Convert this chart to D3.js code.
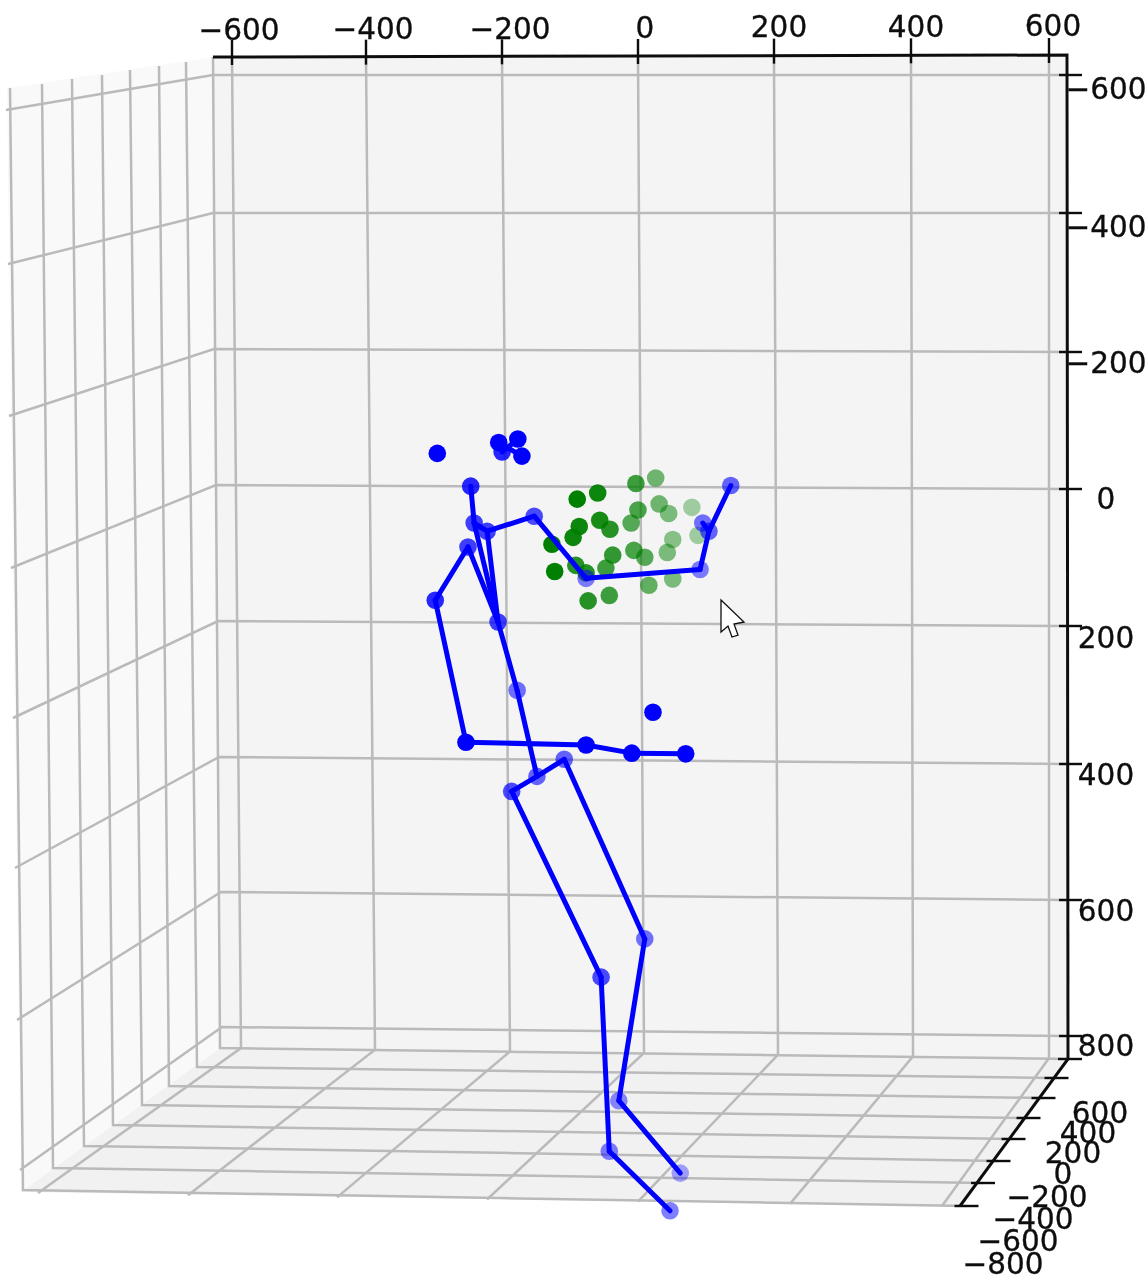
<!DOCTYPE html>
<html>
<head>
<meta charset="utf-8">
<style>
  html, body { margin: 0; background: #fff; }
  svg { display: block; }
  text { font-family: "DejaVu Sans", sans-serif; font-size: 29.5px; fill: #111; stroke: #111; stroke-width: 0.35px; }
</style>
</head>
<body>
<svg width="1148" height="1280"></svg>
<script src="https://d3js.org/d3.v7.min.js"></script>
<script>

// tick values
var xTicks = [-600, -400, -200, 0, 200, 400, 600],
    yTicks = [600, 400, 200, 0, -200, -400, -600, -800],
    zTicks = [-600, -400, -200, 0, 200, 400, 600, 800];

// green points (depth drives the fade)
var handX = [-92, -62, -6, 23, -89, -59, -44, -3, -13, 28, 42, 76, -98, -129, 48, 85, -40, -9, 7, 40, -125, -94, -79, -50, -76, -45, 13, 48],
    handZ = [16, 7, -7, -15, 56, 47, 60, 32, 51, 23, 37, 28, 72, 82, 75, 69, 98, 91, 101, 94, 122, 113, 124, 117, 165, 157, 142, 133],
    handDepth = [-300, -250, -50, 150, -250, -200, -150, 0, 50, 150, 200, 350, -250, -300, 250, 350, -100, 0, 50, 200, -300, -150, -150, -50, -150, -50, 100, 200];

// blue joints
var jointNames = ["A", "B", "C", "D", "E", "F", "G", "H", "I", "J", "K", "L", "M", "N", "O", "P", "Q", "R", "S", "T", "U", "V", "W", "X", "Y", "Z"],
    jointX = [-248, -243, -224, -252, -208, -300, -255, -79, -12, 67, -155, -79, 88, 101, 92, 133, -180, -151, -188, -111, -57, 7, -45, -31, 44, 59],
    jointZ = [-3, 51, 63, 86, 196, 164, 372, 376, 388, 389, 41, 132, 119, 63, 51, -4, 296, 422, 444, 397, 716, 660, 971, 897, 1058, 1003],
    jointDepth = [-150, -50, -50, -50, -50, -150, -300, -300, -300, -300, 0, 200, 200, 100, 150, 100, 150, 100, 0, 100, 0, 150, 200, 250, 200, 350];

var bones = ["AB", "BE", "CE", "DE", "DF", "FG", "GH", "HI", "IJ", "BC", "CK", "KL", "LM", "MN", "NP", "NO", "EQ", "QR", "RS", "RT", "SU", "UW", "WY", "TV", "VX", "XZ"];

// blue points with no bones
var looseX = [-297, -207, -179, -202, -173, 19],
    looseZ = [-51, -67, -72, -53, -47, 328],
    looseDepth = [-300, -300, -300, -150, -300, -300];

var faceBones = [[1, 4], [2, 3]];

var svg = d3.select("svg");

var defs = svg.append("defs");
defs.append("filter").attr("id", "soft")
    .attr("x", 0).attr("y", 0).attr("width", 1148).attr("height", 1280)
    .attr("filterUnits", "userSpaceOnUse")
  .append("feGaussianBlur").attr("stdDeviation", 0.7);

var root = svg.append("g").attr("filter", "url(#soft)");

// scales for the marks, as they look against the back wall
var x = d3.scaleLinear().domain([-600, 600]).range([230.5, 1049.5]),
    z = d3.scaleLinear().domain([-600, 800]).range([78.5, 1034.5]),
    fade = d3.scaleLinear().domain([-300, 400]).range([1, 0.3]).clamp(true);

// the box: the walls are skewed, so each edge gets its own piecewise scale
var xTop = d3.scaleLinear().domain(xTicks).range([232, 366, 502, 638, 774, 911, 1049]),
    xWallBottom = d3.scaleLinear().domain(xTicks).range([241, 375, 510, 644, 778, 913, 1049]),
    xFloorFront = d3.scaleLinear().domain(xTicks).range([38, 188, 337, 487, 638, 790, 942]);
var xTopY = d3.scaleLinear().domain([-600, 600]).range([57, 55]),
    xWallBottomY = d3.scaleLinear().domain([-600, 600]).range([1048, 1058]),
    xFloorFrontY = d3.scaleLinear().domain([-600, 600]).range([1193, 1206]);

var zBackLeft = d3.scaleLinear().domain(zTicks).range([213, 213, 214, 216, 218, 219, 221, 222]),
    zBackLeftY = d3.scaleLinear().domain(zTicks).range([75, 213, 349, 485, 621, 757, 892, 1027]),
    zRightY = d3.scaleLinear().domain(zTicks).range([75, 213, 352, 489, 626, 764, 900, 1036]),
    zSideX = d3.scaleLinear().domain(zTicks).range([6, 8, 9, 11, 13, 15, 17, 20]),
    zSideY = d3.scaleLinear().domain(zTicks).range([110, 264, 416, 568, 718, 868, 1020, 1170]);

var yBottomX = d3.scaleLinear().domain(yTicks).range([220, 197, 169, 142, 113, 84, 53, 23]),
    yBottomY = d3.scaleLinear().domain(yTicks).range([1048, 1067, 1086, 1105, 1125, 1146, 1168, 1190]),
    yTopX = d3.scaleLinear().domain(yTicks).range([213, 186, 159, 130, 102, 72, 42, 10]),
    yTopY = d3.scaleLinear().domain(yTicks).range([57, 62, 66, 70, 75, 79, 84, 88]),
    yAxisX = d3.scaleLinear().domain(yTicks).range([1070, 1056.5, 1043.5, 1028.5, 1013.5, 998.5, 983, 966.5]),
    yAxisY = d3.scaleLinear().domain(yTicks).range([1059, 1078, 1098, 1118, 1139, 1161, 1183, 1206]);

var path = d3.line();

// panes
root.append("path").attr("fill", "#f9f9f9")
    .attr("d", path([[213, 57], [7, 88], [21, 1192], [220, 1048]]) + "Z");
root.append("path").attr("fill", "#f4f4f4")
    .attr("d", path([[213, 57], [1067, 55], [1068, 1059], [220, 1048]]) + "Z");
root.append("path").attr("fill", "#f1f1f1")
    .attr("d", path([[220, 1048], [1068, 1059], [958, 1206], [21, 1192]]) + "Z");

// grid
var grid = root.append("g")
    .attr("fill", "none")
    .attr("stroke", "#bababa")
    .attr("stroke-width", 2.5);

grid.selectAll(".gx").data(xTicks).enter().append("path")
    .attr("class", "gx")
    .attr("d", function(d) {
      return path([[xFloorFront(d), xFloorFrontY(d)], [xWallBottom(d), xWallBottomY(d)], [xTop(d), xTopY(d)]]);
    });

grid.selectAll(".gz").data(zTicks).enter().append("path")
    .attr("class", "gz")
    .attr("d", function(d) {
      return path([[zSideX(d), zSideY(d)], [zBackLeft(d), zBackLeftY(d)], [1067, zRightY(d)]]);
    });

grid.selectAll(".gy").data(yTicks).enter().append("path")
    .attr("class", "gy")
    .attr("d", function(d) {
      return path([[yTopX(d), yTopY(d)], [yBottomX(d), yBottomY(d)], [yAxisX(d), yAxisY(d)]]);
    });

// axis lines and ticks
var axes = root.append("g")
    .attr("fill", "none")
    .attr("stroke", "#111")
    .attr("stroke-width", 2.4);

axes.append("path").attr("stroke-width", 3)
    .attr("d", path([[213, 57], [1067, 55], [1068, 1059], [960, 1206]]));

axes.selectAll(".tx").data(xTicks).enter().append("line")
    .attr("class", "tx")
    .attr("x1", xTop).attr("x2", xTop)
    .attr("y1", function(d) { return xTopY(d) - 17; })
    .attr("y2", function(d) { return xTopY(d) + 8; });

axes.selectAll(".tz").data(zTicks).enter().append("line")
    .attr("class", "tz")
    .attr("x1", 1059).attr("x2", 1082)
    .attr("y1", zRightY).attr("y2", zRightY);

axes.selectAll(".ty").data(yTicks).enter().append("line")
    .attr("class", "ty")
    .attr("x1", function(d) { return yAxisX(d) - 12; })
    .attr("x2", function(d) { return yAxisX(d) + 12; })
    .attr("y1", yAxisY).attr("y2", yAxisY);

// tick labels
var fmt = function(d) { return d < 0 ? "\u2212" + (-d) : "" + d; };

var xLabelX = d3.scaleLinear().domain(xTicks).range([239, 373, 510, 645, 779, 916, 1053]),
    xLabelY = d3.scaleLinear().domain([-600, 600]).range([30, 26]),
    zLabelY = d3.scaleLinear().domain(zTicks).range([88.5, 226.5, 362.5, 498.5, 637.5, 774.5, 910.5, 1045.5]),
    yLabelX = d3.scaleLinear().domain(yTicks).range([1100, 1088, 1073, 1063, 1047, 1033, 1018, 1003]),
    yLabelY = d3.scaleLinear().domain(yTicks).range([1113, 1133, 1153, 1174, 1197, 1219, 1241, 1264]);

var labels = root.append("g")
    .attr("text-anchor", "middle")
    .attr("dominant-baseline", "central");

labels.selectAll(".lx").data(xTicks).enter().append("text")
    .attr("x", xLabelX).attr("y", xLabelY).text(fmt);

labels.selectAll(".lz").data(zTicks).enter().append("text")
    .attr("x", 1106).attr("y", zLabelY).text(fmt);

labels.selectAll(".ly").data(yTicks).enter().append("text")
    .attr("x", yLabelX).attr("y", yLabelY).text(fmt);

// marks
var marks = root.append("g");

marks.selectAll(".hand").data(d3.range(handX.length)).enter().append("circle")
    .attr("class", "hand")
    .attr("cx", function(i) { return x(handX[i]); })
    .attr("cy", function(i) { return z(handZ[i]); })
    .attr("r", 8.8)
    .attr("fill", "#008000")
    .attr("fill-opacity", function(i) { return fade(handDepth[i]); });

marks.selectAll(".joint").data(d3.range(jointX.length)).enter().append("circle")
    .attr("class", "joint")
    .attr("cx", function(i) { return x(jointX[i]); })
    .attr("cy", function(i) { return z(jointZ[i]); })
    .attr("r", 8.8)
    .attr("fill", "#0000ff")
    .attr("fill-opacity", function(i) { return fade(jointDepth[i]); });

marks.selectAll(".loose").data(d3.range(looseX.length)).enter().append("circle")
    .attr("class", "loose")
    .attr("cx", function(i) { return x(looseX[i]); })
    .attr("cy", function(i) { return z(looseZ[i]); })
    .attr("r", 8.8)
    .attr("fill", "#0000ff")
    .attr("fill-opacity", function(i) { return fade(looseDepth[i]); });

var lines = marks.append("g").attr("stroke", "#0000ff").attr("stroke-width", 5).attr("stroke-linecap", "round");

lines.selectAll(".bone").data(bones).enter().append("line")
    .attr("class", "bone")
    .attr("x1", function(d) { return x(jointX[jointNames.indexOf(d[0])]); })
    .attr("y1", function(d) { return z(jointZ[jointNames.indexOf(d[0])]); })
    .attr("x2", function(d) { return x(jointX[jointNames.indexOf(d[1])]); })
    .attr("y2", function(d) { return z(jointZ[jointNames.indexOf(d[1])]); });

lines.selectAll(".face").data(faceBones).enter().append("line")
    .attr("class", "face")
    .attr("x1", function(d) { return x(looseX[d[0]]); })
    .attr("y1", function(d) { return z(looseZ[d[0]]); })
    .attr("x2", function(d) { return x(looseX[d[1]]); })
    .attr("y2", function(d) { return z(looseZ[d[1]]); });

// the mouse pointer caught in the screenshot
root.append("path")
    .attr("fill", "#fff")
    .attr("stroke", "#111")
    .attr("stroke-width", 1.3)
    .attr("d", path([[721, 600], [744, 622], [734, 624], [738, 635], [732, 637], [728, 626], [721, 632]]) + "Z");

</script>
</body>
</html>
